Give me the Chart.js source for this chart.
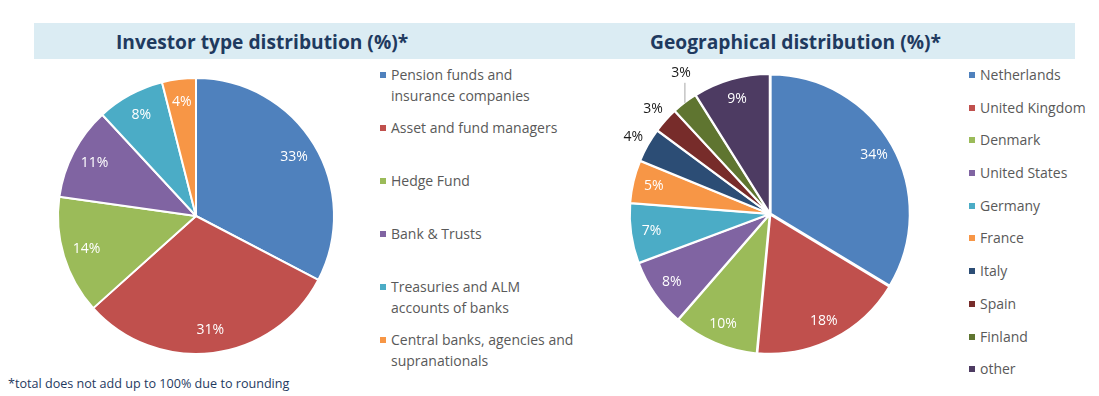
<!DOCTYPE html>
<html>
<head>
<meta charset="utf-8">
<script src="https://cdn.jsdelivr.net/npm/chart.js@4"></script>
<style>
	body { margin: 0; width: 1099px; height: 396px; background: #fff; position: relative; overflow: hidden; font-family: 'Open Sans', sans-serif; }
	.banner { position: absolute; left: 34px; top: 23px; width: 1041px; height: 36px; background: #dbecf3; }
	.title { position: absolute; top: 24px; height: 36px; line-height: 36px; font-weight: bold; font-size: 20px; color: #1f3a5f; white-space: nowrap; transform: scaleX(0.96); transform-origin: left center; }
	canvas { position: absolute; }
	.legend { position: absolute; color: #595959; font-size: 14px; }
	.legend .item { position: relative; padding-left: 11px; line-height: 21px; white-space: nowrap; }
	.legend .box { position: absolute; left: 0; top: 8px; width: 6px; height: 6px; }
	.note { position: absolute; left: 8px; top: 375px; font-size: 12.6px; color: #1f3a5f; }
</style>
</head>
<body>
<div class="banner"></div>
<div class="title" style="left:116px">Investor type distribution (%)*</div>
<div class="title" style="left:650px">Geographical distribution (%)*</div>
<canvas id="investorChart" width="320" height="300" style="left:36px; top:66px"></canvas>
<canvas id="geoChart" width="360" height="320" style="left:590px; top:54px"></canvas>
<div class="legend" id="investorLegend" style="left:380px; top:64px"></div>
<div class="legend" id="geoLegend" style="left:969px; top:64px"></div>
<div class="note">*total does not add up to 100% due to rounding</div>
<script>
var investorLabels = [
	['Pension funds and', 'insurance companies'],
	['Asset and fund managers'],
	['Hedge Fund'],
	['Bank & Trusts'],
	['Treasuries and ALM', 'accounts of banks'],
	['Central banks, agencies and', 'supranationals']
];
var investorValues = [33, 31, 14, 11, 8, 4];
var investorColors = ['#4f81bd', '#c0504d', '#9bbb59', '#8064a2', '#4bacc6', '#f79646'];

var geoLabels = ['Netherlands', 'United Kingdom', 'Denmark', 'United States', 'Germany', 'France', 'Italy', 'Spain', 'Finland', 'other'];
var geoValues = [34, 18, 10, 8, 7, 5, 4, 3, 3, 9];
var geoColors = ['#4f81bd', '#c0504d', '#9bbb59', '#8064a2', '#4bacc6', '#f79646', '#2c4d75', '#772c2a', '#5f7530', '#4d3b62'];

// percentage labels: inside in white, small slices outside in dark
var pctLabels = {
	id: 'pctLabels',
	afterDatasetsDraw: function(chart, args, opts) {
		var ctx = chart.ctx;
		var meta = chart.getDatasetMeta(0);
		var values = chart.data.datasets[0].data;
		var prev = null;
		ctx.save();
		ctx.font = '14px "Open Sans"';
		ctx.textAlign = 'center';
		ctx.textBaseline = 'middle';
		meta.data.forEach(function(arc, i) {
			var p = arc.getProps(['x', 'y', 'startAngle', 'endAngle', 'outerRadius'], true);
			var mid = (p.startAngle + p.endAngle) / 2;
			var txt = values[i] + '%';
			var cos = Math.cos(mid), sin = Math.sin(mid);
			if (values[i] >= opts.minInside) {
				ctx.fillStyle = '#fff';
				ctx.fillText(txt, p.x + cos * p.outerRadius * opts.frac, p.y + sin * p.outerRadius * opts.frac);
				return;
			}
			var r = p.outerRadius + 18;
			var lx = p.x + cos * r, ly = p.y + sin * r;
			if (prev && Math.hypot(lx - prev[0], ly - prev[1]) < 31) {
				// too close: lift the label and draw a leader line
				var ex = p.x + cos * (p.outerRadius + 1);
				var ey = p.y + sin * (p.outerRadius + 1);
				ctx.strokeStyle = '#a6a6a6';
				ctx.lineWidth = 1;
				ctx.beginPath();
				ctx.moveTo(ex, ey);
				ctx.lineTo(ex, ey - 20);
				ctx.stroke();
				lx = ex - 4;
				ly = ey - 30;
			}
			ctx.fillStyle = '#1a1a1a';
			ctx.fillText(txt, lx, ly);
			prev = [lx, ly];
		});
		ctx.restore();
	}
};

function makePie(id, labels, values, colors, radius, offset, frac, minInside) {
	return new Chart(document.getElementById(id), {
		type: 'pie',
		data: {
			labels: labels,
			datasets: [{
				data: values,
				backgroundColor: colors,
				borderColor: '#fff',
				borderWidth: 2,
				offset: offset
			}]
		},
		options: {
			responsive: false,
			animation: false,
			radius: radius,
			layout: { padding: 0 },
			plugins: {
				legend: { display: false },
				tooltip: { enabled: false },
				pctLabels: { frac: frac, minInside: minInside }
			}
		},
		plugins: [pctLabels]
	});
}

function makeLegend(id, labels, colors, step) {
	var el = document.getElementById(id);
	labels.forEach(function(lab, i) {
		var item = document.createElement('div');
		item.className = 'item';
		item.style.height = step + 'px';
		var box = document.createElement('span');
		box.className = 'box';
		box.style.background = colors[i];
		item.appendChild(box);
		[].concat(lab).forEach(function(line, j) {
			if (j) item.appendChild(document.createElement('br'));
			item.appendChild(document.createTextNode(line));
		});
		el.appendChild(item);
	});
}

makePie('investorChart', investorLabels, investorValues, investorColors, 138, 0, 0.83, 0);
makePie('geoChart', geoLabels, geoValues, geoColors, 139, 3, 0.86, 5);
makeLegend('investorLegend', investorLabels, investorColors, 53);
makeLegend('geoLegend', geoLabels, geoColors, 32.7);
</script>
</body>
</html>
